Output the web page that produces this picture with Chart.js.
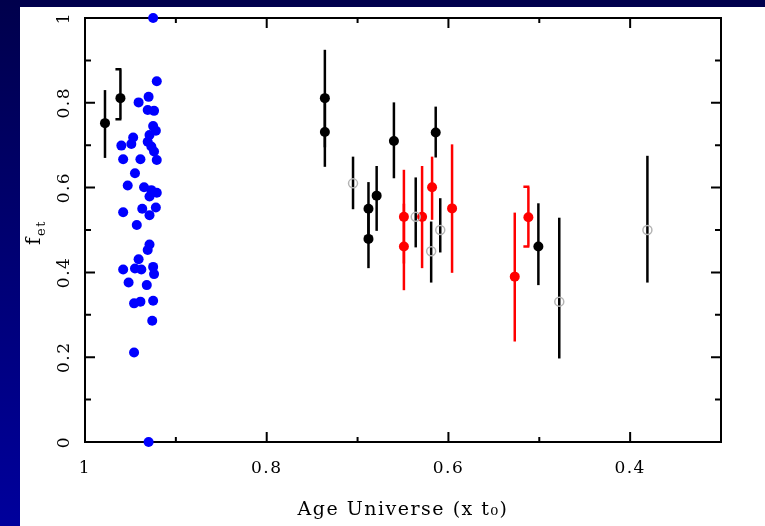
<!DOCTYPE html>
<html>
<head>
<meta charset="utf-8">
<script src="https://cdn.jsdelivr.net/npm/chart.js@4"></script>
<style>html,body{margin:0;padding:0;background:#fff;}</style>
</head>
<body>
<canvas id="chart" width="765" height="526"></canvas>
<script>
// blue: local sample (no error bars)
var blue_x = [0.925, 0.921, 0.930, 0.941, 0.931, 0.924, 0.925, 0.922, 0.929, 0.947,
              0.960, 0.931, 0.927, 0.949, 0.924, 0.958, 0.939, 0.921, 0.945, 0.953,
              0.935, 0.927, 0.921, 0.929, 0.958, 0.937, 0.922, 0.929, 0.943, 0.929,
              0.931, 0.941, 0.958, 0.945, 0.938, 0.925, 0.924, 0.952, 0.932, 0.946,
              0.939, 0.925, 0.926, 0.946, 0.930];
var blue_y = [1.000, 0.851, 0.814, 0.801, 0.783, 0.781, 0.745, 0.734, 0.724, 0.718,
              0.699, 0.708, 0.697, 0.703, 0.685, 0.667, 0.667, 0.665, 0.634, 0.605,
              0.601, 0.594, 0.588, 0.579, 0.542, 0.550, 0.553, 0.535, 0.512, 0.466,
              0.453, 0.431, 0.407, 0.409, 0.407, 0.413, 0.396, 0.376, 0.370, 0.327,
              0.331, 0.333, 0.286, 0.211, 0.000];

// black filled points with error bars
var black_x  = [0.978, 0.961, 0.736, 0.736, 0.688, 0.688, 0.679, 0.660, 0.614, 0.501];
var black_y  = [0.752, 0.811, 0.811, 0.731, 0.550, 0.479, 0.581, 0.710, 0.730, 0.461];
var black_hi = [0.830, 0.879, 0.925, 0.810, 0.613, 0.550, 0.651, 0.801, 0.791, 0.563];
var black_lo = [0.670, 0.761, 0.695, 0.649, 0.490, 0.410, 0.498, 0.622, 0.671, 0.370];

// red points with error bars
var red_x  = [0.649, 0.649, 0.629, 0.618, 0.596, 0.527, 0.512];
var red_y  = [0.531, 0.461, 0.531, 0.601, 0.551, 0.390, 0.530];
var red_hi = [0.642, 0.562, 0.651, 0.673, 0.702, 0.541, 0.602];
var red_lo = [0.421, 0.358, 0.410, 0.524, 0.399, 0.237, 0.461];

// open grey circles with black error bars
var open_x  = [0.705, 0.636, 0.619, 0.609, 0.478, 0.381];
var open_y  = [0.610, 0.531, 0.450, 0.500, 0.331, 0.500];
var open_hi = [0.673, 0.624, 0.520, 0.575, 0.529, 0.675];
var open_lo = [0.549, 0.459, 0.376, 0.447, 0.197, 0.376];

var x_ticks = [1, 0.8, 0.6, 0.4];
var y_ticks = [0, 0.2, 0.4, 0.6, 0.8, 1];
var x_minor = [0.9, 0.7, 0.5, 0.3];
var y_minor = [0.1, 0.3, 0.5, 0.7, 0.9];

function pts(xs, ys) {
    return xs.map(function (v, i) { return {x: v, y: ys[i]}; });
}

var serif = "'DejaVu Serif', serif";

var bgPlugin = {
    id: 'bg',
    beforeDraw: function (chart) {
        var ctx = chart.ctx;
        var g = ctx.createLinearGradient(0, 0, 0, chart.height);
        g.addColorStop(0, '#00004c');
        g.addColorStop(1, '#00009c');
        ctx.save();
        ctx.fillStyle = g;
        ctx.fillRect(0, 0, chart.width, chart.height);
        ctx.fillStyle = '#ffffff';
        ctx.fillRect(20, 7, chart.width - 20, chart.height - 7);
        ctx.restore();
        // wide lettering, like the original plot font
        ctx.letterSpacing = '1.5px';
    }
};

// frame, inward ticks, y labels, y title, error bars
var framePlugin = {
    id: 'frame',
    beforeDatasetsDraw: function (chart) {
        var ctx = chart.ctx, a = chart.chartArea;
        var xs = chart.scales.x, ys = chart.scales.y;
        ctx.save();
        ctx.strokeStyle = '#000';
        ctx.lineWidth = 2;
        ctx.strokeRect(a.left, a.top, a.right - a.left, a.bottom - a.top);
        ctx.beginPath();
        x_ticks.forEach(function (v) {
            var p = xs.getPixelForValue(v);
            ctx.moveTo(p, a.bottom); ctx.lineTo(p, a.bottom - 10);
            ctx.moveTo(p, a.top); ctx.lineTo(p, a.top + 10);
        });
        x_minor.forEach(function (v) {
            var p = xs.getPixelForValue(v);
            ctx.moveTo(p, a.bottom); ctx.lineTo(p, a.bottom - 5);
            ctx.moveTo(p, a.top); ctx.lineTo(p, a.top + 5);
        });
        y_ticks.forEach(function (v) {
            var p = ys.getPixelForValue(v);
            ctx.moveTo(a.left, p); ctx.lineTo(a.left + 10, p);
            ctx.moveTo(a.right, p); ctx.lineTo(a.right - 10, p);
        });
        y_minor.forEach(function (v) {
            var p = ys.getPixelForValue(v);
            ctx.moveTo(a.left, p); ctx.lineTo(a.left + 6, p);
            ctx.moveTo(a.right, p); ctx.lineTo(a.right - 6, p);
        });
        ctx.stroke();

        // y tick labels, rotated
        ctx.fillStyle = '#000';
        ctx.font = '17px ' + serif;
        ctx.textAlign = 'center';
        ctx.textBaseline = 'alphabetic';
        y_ticks.forEach(function (v) {
            ctx.save();
            ctx.translate(69, ys.getPixelForValue(v));
            ctx.rotate(-Math.PI / 2);
            ctx.fillText(String(v), 0, 0);
            ctx.restore();
        });

        // y title f_et
        ctx.save();
        ctx.translate(40, 236);
        ctx.rotate(-Math.PI / 2);
        ctx.textAlign = 'left';
        ctx.font = '20px ' + serif;
        ctx.fillText('f', -9, 0);
        ctx.font = '13px ' + serif;
        ctx.fillText('et', 0, 5);
        ctx.restore();

        // error bars
        function bars(xv, hi, lo, color, capped) {
            ctx.strokeStyle = color;
            ctx.lineWidth = 2.5;
            xv.forEach(function (v, i) {
                var px = xs.getPixelForValue(v);
                var ph = ys.getPixelForValue(hi[i]);
                var pl = ys.getPixelForValue(lo[i]);
                ctx.beginPath();
                ctx.moveTo(px, ph); ctx.lineTo(px, pl);
                if (capped.indexOf(i) >= 0) {
                    ctx.moveTo(px - 5, ph); ctx.lineTo(px + 1, ph);
                    ctx.moveTo(px - 5, pl); ctx.lineTo(px + 1, pl);
                }
                ctx.stroke();
            });
        }
        bars(open_x, open_hi, open_lo, '#000', []);
        bars(black_x, black_hi, black_lo, '#000', [1]);
        bars(red_x, red_hi, red_lo, '#ff0000', [6]);
        ctx.restore();
    }
};

var ctx = document.getElementById('chart').getContext('2d');
new Chart(ctx, {
    type: 'scatter',
    data: {
        datasets: [
            {
                label: 'open',
                data: pts(open_x, open_y),
                pointRadius: 4.5,
                pointBackgroundColor: 'rgba(255,255,255,0)',
                pointBorderColor: '#b4b4b4',
                pointBorderWidth: 1.5,
                clip: false
            },
            {
                label: 'black',
                data: pts(black_x, black_y),
                pointRadius: 5,
                pointBackgroundColor: '#000',
                pointBorderWidth: 0,
                clip: false
            },
            {
                label: 'red',
                data: pts(red_x, red_y),
                pointRadius: 5,
                pointBackgroundColor: '#ff0000',
                pointBorderWidth: 0,
                clip: false
            },
            {
                label: 'blue',
                data: pts(blue_x, blue_y),
                pointRadius: 5,
                pointBackgroundColor: '#0000ff',
                pointBorderWidth: 0,
                clip: false
            }
        ]
    },
    options: {
        responsive: false,
        animation: false,
        events: [],
        layout: {padding: {left: 0, top: 18, right: 44, bottom: 0}},
        plugins: {legend: {display: false}, tooltip: {enabled: false}},
        scales: {
            x: {
                type: 'linear',
                min: 0.3,
                max: 1,
                reverse: true,
                grid: {display: false},
                border: {display: false},
                afterBuildTicks: function (s) {
                    s.ticks = x_ticks.map(function (v) { return {value: v}; });
                },
                afterFit: function (s) { s.height = 84; },
                ticks: {
                    autoSkip: false,
                    maxRotation: 0,
                    padding: 8,
                    color: '#000',
                    font: {family: serif, size: 17},
                    callback: function (v) { return String(v); }
                },
                title: {
                    display: true,
                    text: 'Age Universe (x t\u2080)',
                    color: '#000',
                    font: {family: serif, size: 19},
                    padding: {top: 0, bottom: 5}
                }
            },
            y: {
                type: 'linear',
                min: 0,
                max: 1,
                grid: {display: false},
                border: {display: false},
                ticks: {display: false},
                afterFit: function (s) { s.width = 85; }
            }
        }
    },
    plugins: [bgPlugin, framePlugin]
});
</script>
</body>
</html>
